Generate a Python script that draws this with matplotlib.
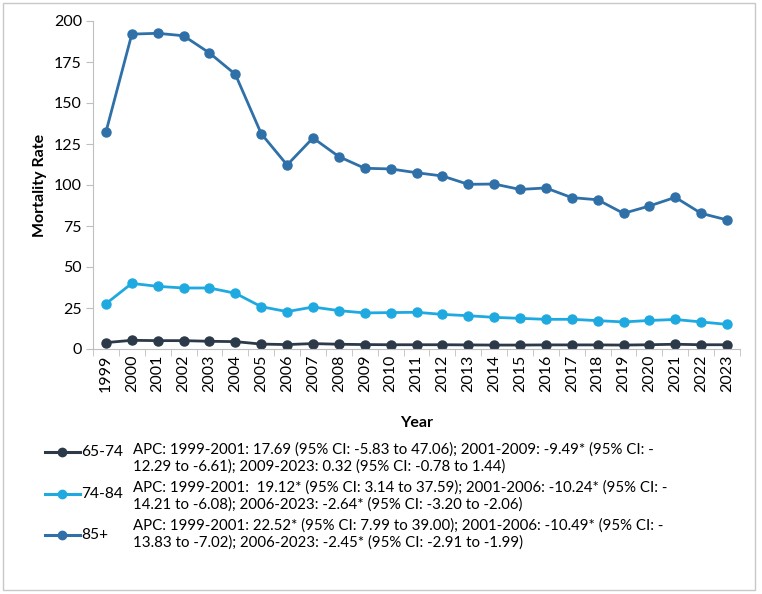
import matplotlib.pyplot as plt
from matplotlib.lines import Line2D
from matplotlib.patches import Rectangle
from matplotlib.ticker import FixedLocator

plt.rcParams['font.family'] = ['Lato', 'DejaVu Sans']

years = list(range(1999, 2024))

age_65_74 = [3.9, 5.3, 5.1, 5.1, 4.7, 4.5, 3.0, 2.7, 3.3, 2.9, 2.7, 2.6, 2.6,
             2.6, 2.5, 2.4, 2.4, 2.5, 2.5, 2.5, 2.4, 2.6, 2.9, 2.6, 2.6]
age_74_84 = [27.6, 40.0, 38.2, 37.2, 37.2, 34.0, 25.8, 22.8, 25.6, 23.4, 22.0,
             22.2, 22.4, 21.1, 20.3, 19.3, 18.7, 18.1, 18.1, 17.3, 16.5, 17.4,
             18.0, 16.5, 15.0]
age_85 = [132.3, 192.0, 192.5, 191.0, 180.5, 167.5, 131.3, 112.2, 128.7, 117.3,
          110.2, 109.8, 107.5, 105.5, 100.4, 100.6, 97.3, 98.2, 92.3, 91.0,
          82.7, 87.2, 92.5, 82.7, 78.7]

labels = ["65-74", "74-84", "85+"]
colors = ["#2b3949", "#1fa9e1", "#2f70a8"]
apc_text = [
    "APC: 1999-2001: 17.69 (95% CI: -5.83 to 47.06); 2001-2009: -9.49* (95% CI: -\n"
    "12.29 to -6.61); 2009-2023: 0.32 (95% CI: -0.78 to 1.44)",
    "APC: 1999-2001:  19.12* (95% CI: 3.14 to 37.59); 2001-2006: -10.24* (95% CI: -\n"
    "14.21 to -6.08); 2006-2023: -2.64* (95% CI: -3.20 to -2.06)",
    "APC: 1999-2001: 22.52* (95% CI: 7.99 to 39.00); 2001-2006: -10.49* (95% CI: -\n"
    "13.83 to -7.02); 2006-2023: -2.45* (95% CI: -2.91 to -1.99)",
]
# pixel rows of the legend entries (label, first text line)
label_rows = [452, 494, 535]
text_rows = [450, 488, 526]

W, H = 762, 594
fig = plt.figure(figsize=(W / 100, H / 100), dpi=100)
ax = fig.add_axes([93 / W, 1 - 349 / H, (740 - 93) / W, (349 - 21) / H])

for vals, lab, col in zip([age_65_74, age_74_84, age_85], labels, colors):
    ax.plot(years, vals, color=col, lw=2.0, marker='o', ms=6.5, label=lab)

ax.set_xlim(1998.5, 2023.5)
ax.set_ylim(0, 200)
ax.set_yticks(range(0, 201, 25))
ax.set_xticks(years)
ax.set_xticklabels([str(y) for y in years], rotation=90)
ax.xaxis.set_minor_locator(FixedLocator([y - 0.5 for y in years] + [2023.5]))
ax.tick_params(axis='x', which='major', length=0, pad=4, labelsize=11.5)
ax.tick_params(axis='x', which='minor', length=5, color='#bfbfbf')
ax.tick_params(axis='y', length=5, color='#bfbfbf', labelsize=11.5, pad=3)
for s in ['top', 'right']:
    ax.spines[s].set_visible(False)
for s in ['left', 'bottom']:
    ax.spines[s].set_color('#bfbfbf')
ax.set_ylabel("Mortality Rate", fontsize=11.5, fontweight='bold', labelpad=5)
ax.set_xlabel("Year", fontsize=11.5, fontweight='bold', labelpad=17)

# legend block below the chart
for lab, col, txt, ly, ty in zip(labels, colors, apc_text, label_rows, text_rows):
    y = 1 - ly / H
    fig.add_artist(Line2D([45 / W, 80 / W], [y, y], color=col, lw=2.2))
    fig.add_artist(Line2D([62 / W], [y], color=col, marker='o', ms=6))
    fig.text(81 / W, y, lab, fontsize=11.2, va='center', ha='left')
    fig.text(133 / W, 1 - (ty - 8) / H, txt, fontsize=10.8, va='top', ha='left',
             linespacing=1.25)

fig.add_artist(Rectangle((3 / W, 4 / H), 752 / W, 587 / H, fill=False,
                         edgecolor='#c8c8c8', lw=1.0, transform=fig.transFigure))

fig.savefig("out.png", dpi=100)
